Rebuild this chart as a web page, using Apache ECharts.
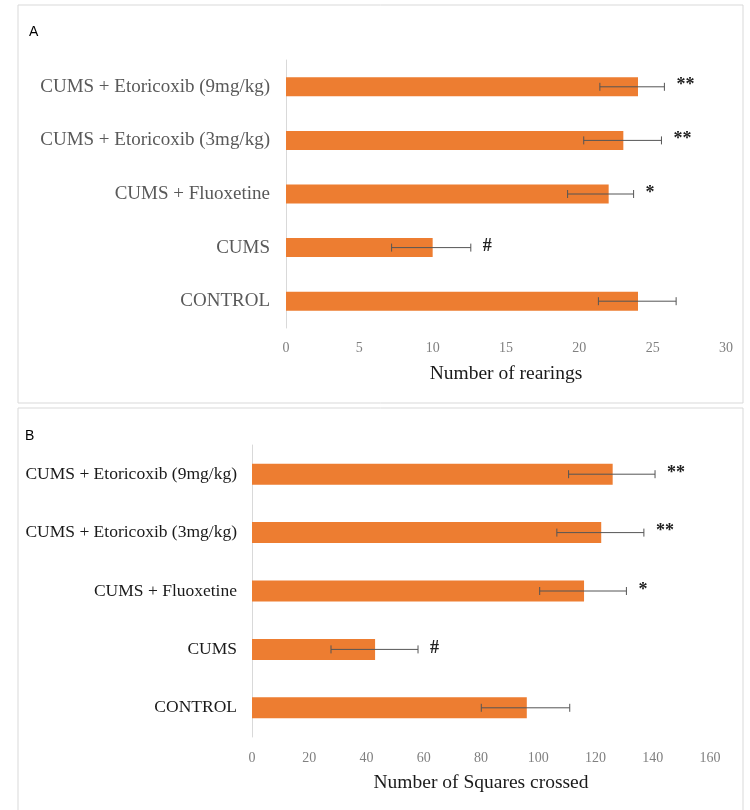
<!DOCTYPE html>
<html>
<head>
<meta charset="utf-8">
<script src="https://cdn.jsdelivr.net/npm/echarts@6/dist/echarts.min.js"></script>
<style>
  html, body { margin: 0; padding: 0; background: #fff; }
  #container { width: 750px; height: 810px; }
</style>
</head>
<body>
<div id="container"></div>
<script>
// groups, listed top to bottom
var groups = ['CUMS + Etoricoxib (9mg/kg)', 'CUMS + Etoricoxib (3mg/kg)', 'CUMS + Fluoxetine', 'CUMS', 'CONTROL'];

// panel A: rearings
var rearMean = [24, 23, 22, 10, 24];
var rearLow = [21.4, 20.3, 19.2, 7.2, 21.3];
var rearHigh = [25.8, 25.6, 23.7, 12.6, 26.6];
var rearSig = ['**', '**', '*', '#', ''];

// panel B: squares crossed
var sqMean = [126, 122, 116, 43, 96];
var sqLow = [110.6, 106.5, 100.5, 27.6, 80.1];
var sqHigh = [140.8, 136.9, 130.8, 58, 111];
var sqSig = ['**', '**', '*', '#', ''];

var orange = '#ED7D31';
var serif = '"Liberation Serif", "DejaVu Serif", serif';

function errData(low, high, sig) {
    var out = [];
    for (var i = 0; i < low.length; i++) {
        out.push([i, low[i], high[i], sig[i]]);
    }
    return out;
}

function errRender(params, api) {
    var cat = api.value(0);
    var lo = api.coord([api.value(1), cat]);
    var hi = api.coord([api.value(2), cat]);
    var y = lo[1];
    var style = { stroke: '#555', lineWidth: 1 };
    var children = [
        { type: 'line', shape: { x1: lo[0], y1: y, x2: hi[0], y2: y }, style: style },
        { type: 'line', shape: { x1: lo[0], y1: y - 4, x2: lo[0], y2: y + 4 }, style: style },
        { type: 'line', shape: { x1: hi[0], y1: y - 4, x2: hi[0], y2: y + 4 }, style: style },
        { type: 'text', x: hi[0] + 12, y: y - 1, style: {
            text: api.value(3), fill: '#222', font: 'bold 18px ' + serif,
            verticalAlign: 'middle', align: 'left' } }
    ];
    return { type: 'group', children: children };
}

var myChart = echarts.init(document.getElementById('container'));

var option = {
    backgroundColor: '#fff',
    animation: false,
    graphic: [
        { type: 'rect', shape: { x: 18, y: 5, width: 725, height: 398 },
          style: { fill: 'none', stroke: '#d9d9d9', lineWidth: 1 } },
        { type: 'rect', shape: { x: 18, y: 408, width: 725, height: 410 },
          style: { fill: 'none', stroke: '#d9d9d9', lineWidth: 1 } },
        { type: 'text', left: 29, top: 25,
          style: { text: 'A', font: '14px "Liberation Sans", Arial, sans-serif', fill: '#000' } },
        { type: 'text', left: 25, top: 429,
          style: { text: 'B', font: '14px "Liberation Sans", Arial, sans-serif', fill: '#000' } }
    ],
    grid: [
        { left: 286, right: 24, top: 60, height: 268 },
        { left: 252, right: 40, top: 445, height: 292 }
    ],
    xAxis: [
        {
            type: 'value', gridIndex: 0, min: 0, max: 30, interval: 5,
            axisLine: { show: false }, axisTick: { show: false }, splitLine: { show: false },
            axisLabel: { color: '#808080', fontFamily: serif, fontSize: 14, margin: 13 },
            name: 'Number of rearings', nameLocation: 'middle', nameGap: 36,
            nameTextStyle: { color: '#1a1a1a', fontFamily: serif, fontSize: 19.5 }
        },
        {
            type: 'value', gridIndex: 1, min: 0, max: 160, interval: 20,
            axisLine: { show: false }, axisTick: { show: false }, splitLine: { show: false },
            axisLabel: { color: '#808080', fontFamily: serif, fontSize: 14, margin: 14 },
            name: 'Number of Squares crossed', nameLocation: 'middle', nameGap: 36,
            nameTextStyle: { color: '#1a1a1a', fontFamily: serif, fontSize: 19.5 }
        }
    ],
    yAxis: [
        {
            type: 'category', gridIndex: 0, data: groups, inverse: true,
            axisLine: { lineStyle: { color: '#d9d9d9' } }, axisTick: { show: false },
            axisLabel: { color: '#595959', fontFamily: serif, fontSize: 19, margin: 16 }
        },
        {
            type: 'category', gridIndex: 1, data: groups, inverse: true,
            axisLine: { lineStyle: { color: '#d9d9d9' } }, axisTick: { show: false },
            axisLabel: { color: '#1a1a1a', fontFamily: serif, fontSize: 17.5, margin: 15 }
        }
    ],
    series: [
        {
            name: 'rearings', type: 'bar', xAxisIndex: 0, yAxisIndex: 0,
            data: rearMean, barWidth: 19, itemStyle: { color: orange }
        },
        {
            name: 'rearings err', type: 'custom', xAxisIndex: 0, yAxisIndex: 0,
            encode: { x: [1, 2], y: 0 },
            data: errData(rearLow, rearHigh, rearSig), renderItem: errRender, z: 5
        },
        {
            name: 'squares', type: 'bar', xAxisIndex: 1, yAxisIndex: 1,
            data: sqMean, barWidth: 21, itemStyle: { color: orange }
        },
        {
            name: 'squares err', type: 'custom', xAxisIndex: 1, yAxisIndex: 1,
            encode: { x: [1, 2], y: 0 },
            data: errData(sqLow, sqHigh, sqSig), renderItem: errRender, z: 5
        }
    ]
};

myChart.setOption(option);
</script>
</body>
</html>
